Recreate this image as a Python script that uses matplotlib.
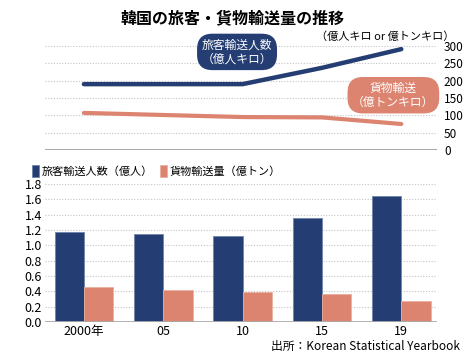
import matplotlib
matplotlib.use('Agg')
import matplotlib.pyplot as plt
import numpy as np

plt.rcParams['font.family'] = ['Noto Sans CJK JP', 'DejaVu Sans']

# data
years = ['2000年', '05', '10', '15', '19']
passenger_km = [190, 190, 190, 237, 291]      # 億人キロ
freight_tonkm = [107, 101, 95, 94, 75]       # 億トンキロ
passengers = [1.17, 1.15, 1.12, 1.35, 1.64]  # 億人
freight = [0.45, 0.42, 0.39, 0.37, 0.28]     # 億トン

navy = '#243d72'
salmon = '#dc8470'
gridc = '#c4c4c4'

fig = plt.figure(figsize=(4.65, 3.55), dpi=100)
fig.text(0.5, 0.948, '韓国の旅客・貨物輸送量の推移', ha='center', va='center',
         fontsize=11.5, fontweight='bold')

x = np.arange(len(years))

# top: line chart
ax1 = fig.add_axes([0.0968, 0.5775, 0.843, 0.2929])
ax1.plot(x, passenger_km, color=navy, lw=3.2, solid_capstyle='round')
ax1.plot(x, freight_tonkm, color=salmon, lw=3.0, solid_capstyle='round')
ax1.set_xlim(-0.49, 4.45)
ax1.set_ylim(0, 300)
ax1.set_yticks(range(0, 301, 50))
ax1.yaxis.tick_right()
ax1.tick_params(axis='y', length=0, pad=5, labelsize=8.5)
ax1.set_xticks([])
for s in ax1.spines.values():
    s.set_visible(False)
for v in range(50, 301, 50):
    ax1.axhline(v, color=gridc, lw=0.8, ls=(0, (1, 1.5)), zorder=0)
ax1.axhline(0, color='#aaaaaa', lw=1.5, zorder=0)
ax1.text(1.045, 1.09, '（億人キロ or 億トンキロ）', transform=ax1.transAxes,
         ha='right', va='center', fontsize=8)
ax1.text(1.93, 283, '旅客輸送人数\n（億人キロ）', ha='center', va='center',
         color='white', fontsize=8.5, linespacing=1.1,
         bbox=dict(boxstyle='round,pad=0.4,rounding_size=1.3', fc=navy, ec='none'))
ax1.text(3.9, 158, '貨物輸送\n（億トンキロ）', ha='center', va='center',
         color='white', fontsize=8.5, linespacing=1.1,
         bbox=dict(boxstyle='round,pad=0.4,rounding_size=1.3', fc=salmon, ec='none'))

# bottom: bar chart
ax2 = fig.add_axes([0.0968, 0.0930, 0.843, 0.3887])
w = 0.37
ax2.bar(x - w / 2, passengers, w, color=navy, edgecolor='#6f83ab', lw=0.6,
        label='旅客輸送人数（億人）', zorder=2)
ax2.bar(x + w / 2, freight, w, color=salmon, edgecolor='#eab0a0', lw=0.6,
        label='貨物輸送量（億トン）', zorder=2)
ax2.set_xlim(-0.49, 4.45)
ax2.set_ylim(0, 1.8)
ax2.set_yticks(np.arange(0, 1.81, 0.2))
ax2.set_yticklabels(['%.1f' % v for v in np.arange(0, 1.81, 0.2)])
ax2.set_xticks(x)
ax2.set_xticklabels(years)
ax2.tick_params(axis='both', length=0, labelsize=9)
ax2.tick_params(axis='y', pad=2)
ax2.tick_params(axis='x', pad=2)
for s in ax2.spines.values():
    s.set_visible(False)
for v in np.arange(0.2, 1.81, 0.2):
    ax2.axhline(v, color=gridc, lw=0.8, ls=(0, (1, 1.5)), zorder=0)
ax2.axhline(0, color='#aaaaaa', lw=2, zorder=3)
ax2.legend(loc='lower left', bbox_to_anchor=(-0.05, 1.0), ncol=2, frameon=False,
           fontsize=8, handlelength=0.6, handleheight=1.3, handletextpad=0.3,
           columnspacing=0.6, borderaxespad=0.2)

fig.text(0.99, 0.025, '出所：Korean Statistical Yearbook', ha='right', va='center',
         fontsize=8.5)

fig.savefig('out.png', dpi=100)
